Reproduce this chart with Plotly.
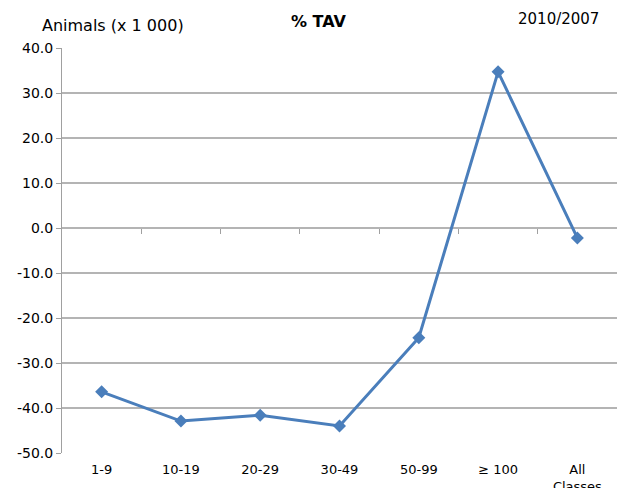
import plotly.graph_objects as go

categories = ["1-9", "10-19", "20-29", "30-49", "50-99", "≥ 100", "All<br>Classes"]
values = [-36.4, -42.9, -41.6, -44.0, -24.4, 34.7, -2.2]
y_ticks = [-50, -40, -30, -20, -10, 0, 10, 20, 30, 40]
y_tick_labels = ["-50.0", "-40.0", "-30.0", "-20.0", "-10.0", "0.0", "10.0", "20.0", "30.0", "40.0"]

FONT = "DejaVu Sans, Verdana, sans-serif"
BLUE = "#4a7ebb"
GRID = "#b4b4b4"

fig = go.Figure()
fig.add_trace(go.Scatter(
    x=list(range(len(categories))), y=values, mode="lines+markers",
    line=dict(color=BLUE, width=3),
    marker=dict(symbol="diamond", size=10, color=BLUE),
    showlegend=False, hoverinfo="skip",
))
# invisible trace to host the boundary tick axis at y = 0
fig.add_trace(go.Scatter(x=[0], y=[0], xaxis="x2", mode="markers",
                         marker=dict(opacity=0), showlegend=False, hoverinfo="skip"))

ymin, ymax = -50, 40
L, R, T, B = 62, 0, 48, 35
W, H = 617, 488
fig.update_layout(
    width=W, height=H,
    margin=dict(l=L, r=R, t=T, b=B, autoexpand=False),
    paper_bgcolor="white", plot_bgcolor="white",
    font=dict(family=FONT, size=13, color="#000000"),
    xaxis=dict(
        range=[-0.5, len(categories) - 0.5],
        tickvals=list(range(len(categories))), ticktext=categories,
        showgrid=False, zeroline=False, showline=False, ticks="",
        tickfont=dict(size=13), automargin=False, ticklabelstandoff=7,
    ),
    xaxis2=dict(
        overlaying="x", anchor="free", position=(0 - ymin) / (ymax - ymin),
        range=[-0.5, len(categories) - 0.5],
        tickvals=[i + 0.5 for i in range(len(categories) - 1)],
        ticks="outside", ticklen=5, tickcolor="#a0a0a0", tickwidth=1,
        showticklabels=False, showgrid=False, zeroline=False, showline=False,
        automargin=False,
    ),
    yaxis=dict(
        range=[ymin, ymax], tickvals=y_ticks, ticktext=y_tick_labels,
        showgrid=True, gridcolor=GRID, gridwidth=1.5,
        zeroline=False, showline=True, linecolor="#a0a0a0", linewidth=1,
        ticks="outside", ticklen=5, tickcolor="#a0a0a0",
        tickfont=dict(size=14), automargin=False,
    ),
)
pw, ph = W - L - R, H - T - B
def px_ann(text, x, y, xanchor, size=15):
    return dict(text=text, showarrow=False, font=dict(size=size), xanchor=xanchor,
                yanchor="middle", xref="paper", yref="paper",
                x=(x - L) / pw, y=(H - B - y) / ph)
fig.update_layout(annotations=[
    px_ann("Animals (x 1 000)", 40, 25, "left", 16),
    px_ann("<b>% TAV</b>", 319, 22, "center", 16),
    px_ann("2010/2007", 601, 19, "right", 15),
])

fig.write_html("out.html", config={"displayModeBar": False},
               post_script="document.body.style.margin='0';document.body.style.overflow='hidden';")
